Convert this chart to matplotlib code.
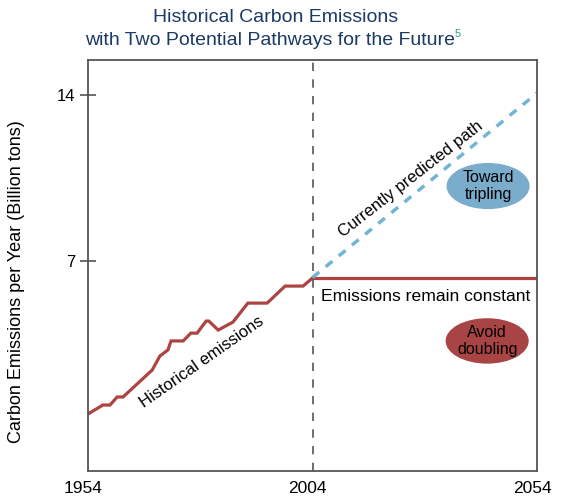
import matplotlib
matplotlib.use("Agg")
import matplotlib.pyplot as plt
import matplotlib.transforms as mtransforms
from matplotlib.patches import Ellipse

plt.rcParams['font.family'] = ['Liberation Sans', 'DejaVu Sans']

# historical emissions
hist_years = [1954, 1957.3, 1958.9, 1960.5, 1961.8, 1968.3, 1970.0, 1971.8, 1972.5,
              1975.2, 1976.9, 1978.3, 1980.3, 1980.9, 1983.0, 1986.3, 1989.6,
              1993.9, 1997.9, 2001.9, 2004]
hist_values = [0.53, 0.91, 0.91, 1.25, 1.25, 2.39, 2.98, 3.24, 3.62,
               3.62, 3.95, 3.95, 4.46, 4.46, 4.08, 4.42, 5.22,
               5.22, 5.94, 5.94, 6.28]
const_years = [2004, 2054]
const_values = [6.28, 6.28]
pred_years = [2004, 2054]
pred_values = [6.3, 14.1]
yticks = [7, 14]
xticks = [1954, 2004, 2054]

red = '#ad4442'
blue = '#72b4d6'

fig = plt.figure(figsize=(5.7, 4.99), dpi=100)
ax = fig.add_axes([0.1544, 0.0561, 0.7877, 0.8237])

ax.plot(hist_years, hist_values, color=red, lw=2.3, solid_joinstyle='miter')
ax.plot(const_years, const_values, color=red, lw=2.3)
ax.plot(pred_years, pred_values, color=blue, lw=2.5, dashes=(2.5, 2.4))
ax.axvline(2004, color='#555555', lw=1.2, dashes=(5, 5))

ax.set_xlim(1954, 2054)
ax.set_ylim(-1.88, 15.5)
ax.set_xticks(xticks)
ax.set_yticks(yticks)
ax.set_xticklabels([str(x) for x in xticks], fontsize=12.5)
ax.set_yticklabels([str(y) for y in yticks], fontsize=12)
ax.tick_params(axis='x', length=0, pad=7)
ax.tick_params(axis='y', direction='inout', length=12, width=1.1, color='#444444', pad=3)
shift = mtransforms.ScaledTranslation(-5 / 100, 0, fig.dpi_scale_trans)
for lab in ax.get_xticklabels():
    lab.set_transform(lab.get_transform() + shift)
for sp in ax.spines.values():
    sp.set_color('#555555')
    sp.set_linewidth(1.3)

ax.set_ylabel('Carbon Emissions per Year (Billion tons)', fontsize=13)
ax.yaxis.set_label_coords(-0.14, 0.46)

ax.text(1979.3, 2.72, 'Historical emissions', rotation=35, fontsize=12,
        ha='center', va='center', rotation_mode='anchor')
ax.text(2025.9, 10.47, 'Currently predicted path', rotation=38, fontsize=12,
        ha='center', va='center', rotation_mode='anchor')
ax.text(2029.1, 5.52, 'Emissions remain constant', fontsize=12.6,
        ha='center', va='center')

ax.add_patch(Ellipse((2043.1, 10.17), 18.5, 1.95, facecolor='#7aaccb', edgecolor='none'))
ax.text(2043.1, 10.17, 'Toward\ntripling', fontsize=11.5, ha='center', va='center',
        linespacing=1.15)
ax.add_patch(Ellipse((2042.9, 3.62), 18.5, 1.92, facecolor='#a84444', edgecolor='none'))
ax.text(2042.9, 3.62, 'Avoid\ndoubling', fontsize=11.5, ha='center', va='center',
        linespacing=1.15)

fig.text(0.484, 0.965, 'Historical Carbon Emissions', fontsize=14, color='#1b3a66',
         ha='center', va='center')
fig.text(0.474, 0.919, 'with Two Potential Pathways for the Future', fontsize=14,
         color='#1b3a66', ha='center', va='center')
fig.text(0.798, 0.932, '5', fontsize=8, color='#2e9e7e', ha='left', va='center')

fig.savefig('out.png', dpi=100)
